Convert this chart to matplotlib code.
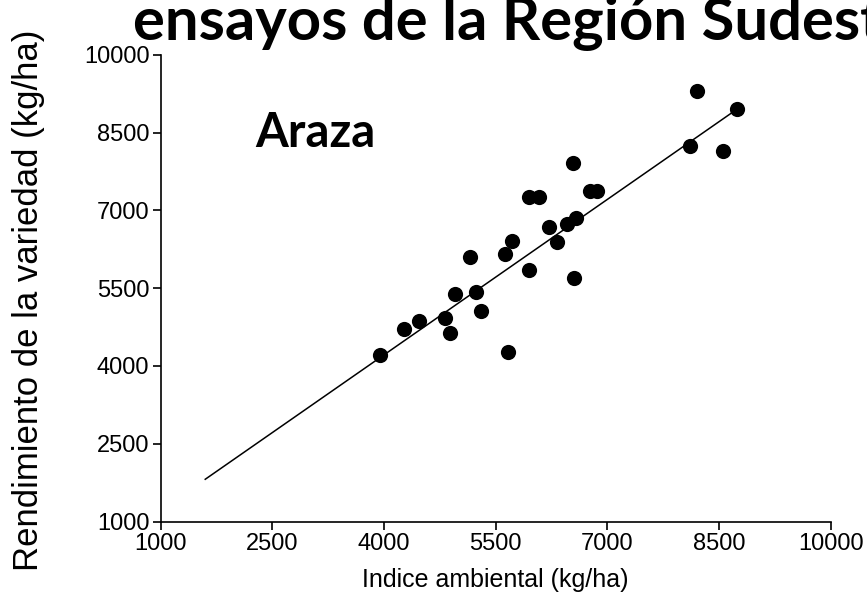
import matplotlib
matplotlib.use("Agg")
import matplotlib.pyplot as plt

# Data
indice_ambiental = [3950, 4275, 4470, 4820, 4890, 4955, 5240, 5300, 5150, 5670,
                    5630, 5720, 5955, 6085, 5955, 6220, 6330, 6465, 6580, 6545,
                    6555, 6770, 6865, 8210, 8740, 8105, 8560]
rendimiento = [4210, 4705, 4870, 4930, 4640, 5385, 5435, 5060, 6095, 4265,
               6155, 6410, 7265, 7265, 5850, 6675, 6385, 6735, 6860, 7920,
               5690, 7380, 7380, 9310, 8955, 8245, 8145]
fit_x = [1600, 8690]
fit_y = [1815, 8900]
ticks = [1000, 2500, 4000, 5500, 7000, 8500, 10000]

plt.rcParams['font.family'] = ['Liberation Sans', 'DejaVu Sans']

fig = plt.figure(figsize=(8.67, 5.94), dpi=100)
ax = fig.add_axes([0.1852, 0.122, 0.958 - 0.1852, 0.9076 - 0.122])

ax.plot(fit_x, fit_y, color='black', lw=1.1, zorder=2)
ax.scatter(indice_ambiental, rendimiento, s=120, color='black', zorder=3, linewidths=0)

ax.set_xlim(1000, 10000)
ax.set_ylim(1000, 10000)
ax.set_xticks(ticks)
ax.set_yticks(ticks)
ax.set_xticklabels([str(t) for t in ticks])
ax.set_yticklabels([str(t) for t in ticks])
for s in ['top', 'right']:
    ax.spines[s].set_visible(False)
for s in ['left', 'bottom']:
    ax.spines[s].set_linewidth(1.2)
ax.tick_params(axis='both', direction='out', length=6, width=1.2, labelsize=17, pad=2)

ax.set_xlabel('Indice ambiental (kg/ha)', fontsize=18)
ax.xaxis.set_label_coords(0.5, -0.1)
ax.set_ylabel('Rendimiento de la variedad (kg/ha)', fontsize=25)
ax.yaxis.set_label_coords(-0.172, 0.475)

ax.text(0.141, 0.833, 'Araza', transform=ax.transAxes, fontsize=34, fontweight='bold',
        family=['Lato', 'DejaVu Sans'], ha='left', va='center')

fig.text(0.153, 1 - 40 / 594, 'ensayos de la Región Sudeste', fontsize=43, fontweight='bold',
         family=['Lato', 'DejaVu Sans'], ha='left', va='baseline')

fig.savefig('out.png', dpi=100)
